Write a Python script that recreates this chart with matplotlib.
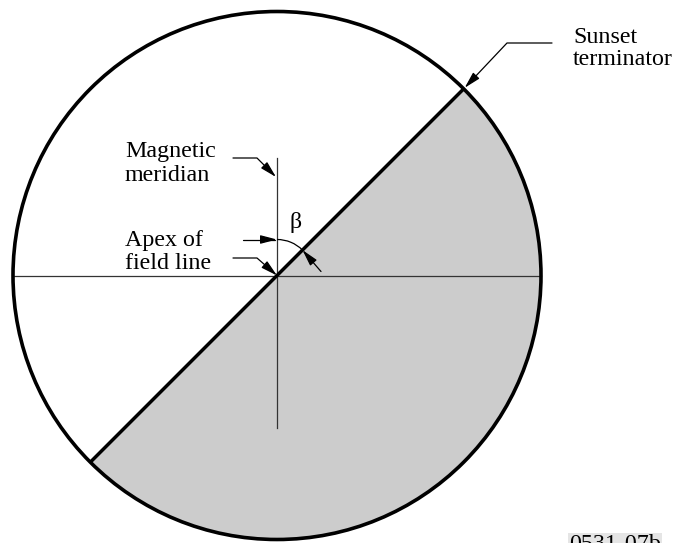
import numpy as np
import matplotlib
matplotlib.use("Agg")
import matplotlib.pyplot as plt
from matplotlib.patches import Circle, Wedge, Arc, FancyArrowPatch
from matplotlib.path import Path

plt.rcParams['font.family'] = ['Liberation Serif', 'DejaVu Serif']

# ---- diagram values (pixel units, origin at apex, y up) ----
circle_radius = 264
terminator_angle = 45          # degrees from horizontal
beta_arc_radius = 36
meridian_top, meridian_bottom = 117.5, -152.5
label_meridian = ["Magnetic", "meridian"]
label_apex = ["Apex of", "field line"]
label_terminator = ["Sunset", "terminator"]
label_beta = "β"
figure_code = "0531-07b"

fig = plt.figure(figsize=(6.77, 5.43), dpi=100)
ax = fig.add_axes([0, 0, 1, 1])
ax.set_xlim(-277, 400)
ax.set_ylim(-267.5, 275.5)
ax.set_aspect('equal')
ax.axis('off')

R = circle_radius
# shaded half (night side)
ax.add_patch(Wedge((0, 0), R, terminator_angle - 180, terminator_angle,
                   facecolor='#cccccc', edgecolor='none', zorder=1))
# horizontal line and magnetic meridian
ax.plot([-R, R], [0, 0], color='#333333', lw=0.9, zorder=2)
ax.plot([0, 0], [meridian_bottom, meridian_top], color='#333333', lw=0.9, zorder=2)
# terminator
t = np.deg2rad(terminator_angle)
ax.plot([-R * np.cos(t), R * np.cos(t)], [-R * np.sin(t), R * np.sin(t)],
        color='black', lw=2.5, zorder=3, solid_capstyle='butt')
# outer circle
ax.add_patch(Circle((0, 0), R, facecolor='none', edgecolor='black', lw=2.6, zorder=4))

# beta arc
ax.add_patch(Arc((0, 0), 2 * beta_arc_radius, 2 * beta_arc_radius,
                 theta1=terminator_angle, theta2=90, color='black', lw=0.9, zorder=5))
arrow_style = '-|>,head_length=10,head_width=2.6'

def leader(verts):
    p = FancyArrowPatch(path=Path(verts), arrowstyle=arrow_style, mutation_scale=1,
                        color='black', lw=0.9, shrinkA=0, shrinkB=0, zorder=6)
    ax.add_patch(p)

b = beta_arc_radius
leader([(-34, b), (0, b)])
tip = (b * np.cos(t), b * np.sin(t))
leader([(44, 4), tip])

# leaders to labels
leader([(-44, 117.5), (-20, 117.5), (-1, 98.5)])
leader([(-44, 17.5), (-20, 17.5), (0, 0)])
leader([(275, 232.5), (230, 232.5), (R * np.cos(t) + 1, R * np.sin(t) + 1)])

fs = 17.3
ax.text(-152, 275.5 - 157, label_meridian[0], fontsize=fs, va='baseline', ha='left')
ax.text(-152, 275.5 - 181, label_meridian[1], fontsize=fs, va='baseline', ha='left')
ax.text(-152, 275.5 - 246, label_apex[0], fontsize=fs, va='baseline', ha='left')
ax.text(-152, 275.5 - 269, label_apex[1], fontsize=fs, va='baseline', ha='left')
ax.text(296, 275.5 - 43, label_terminator[0], fontsize=fs, va='baseline', ha='left')
ax.text(296, 275.5 - 65, label_terminator[1], fontsize=fs, va='baseline', ha='left')
ax.text(19, 275.5 - 228, label_beta, fontsize=fs, va='baseline', ha='center')
ax.text(292, 275.5 - 550, figure_code, fontsize=fs, va='baseline', ha='left',
        bbox=dict(facecolor='#e5e5e5', edgecolor='none', pad=1))

fig.savefig('out.png', dpi=100)
